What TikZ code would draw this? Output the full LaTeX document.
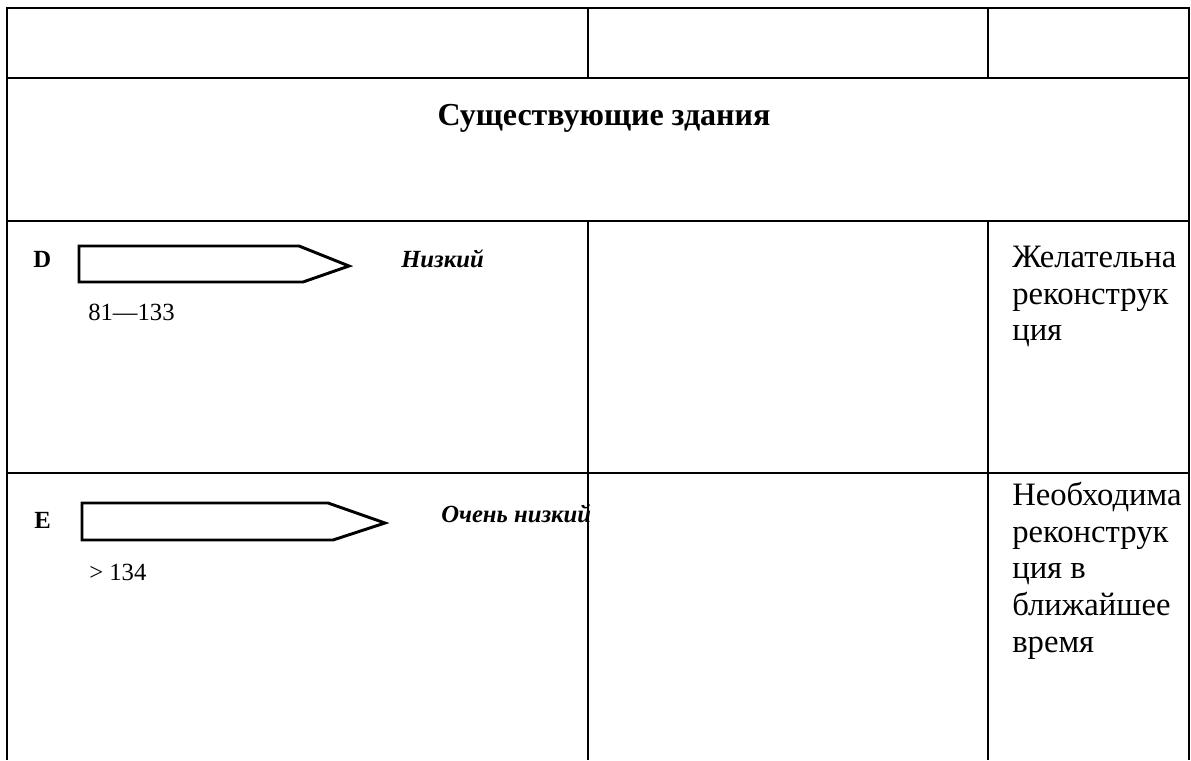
\documentclass[tikz,border=0pt]{standalone}
\usepackage{fontspec}
\setmainfont{Liberation Serif}
\begin{document}
\begin{tikzpicture}[x=0.75pt,y=-0.75pt,
  rule/.style={line width=2pt},
  bar/.style={line width=2.2pt, line join=miter},
  cell/.style={inner sep=0pt, align=left, anchor=north west,
    font=\fontsize{24.5}{27.5}\selectfont},
  titletext/.style={inner sep=0pt, anchor=base, font=\fontsize{24}{28}\selectfont\bfseries},
  gradetext/.style={inner sep=0pt, anchor=base west, font=\fontsize{18.5}{20}\selectfont\bfseries},
  rangetext/.style={inner sep=0pt, anchor=base west, font=\fontsize{18.5}{20}\selectfont},
  leveltext/.style={inner sep=0pt, anchor=base west, font=\fontsize{18.5}{20}\selectfont\bfseries\itshape}]
\useasboundingbox (0,0) rectangle (1191,760);
\fill[white] (0,0) rectangle (1191,760);
% table grid
\draw[rule] (7,760) -- (7,8) -- (1189,8) -- (1189,760);
\draw[rule] (7,78) -- (1189,78);
\draw[rule] (7,221) -- (1189,221);
\draw[rule] (7,473) -- (1189,473);
\draw[rule] (588,8) -- (588,78);
\draw[rule] (988,8) -- (988,78);
\draw[rule] (588,221) -- (588,760);
\draw[rule] (988,221) -- (988,760);
% title
\node[titletext] (title) at (604,125) {Существующие здания};
% row D
\node[gradetext] (gD) at (33,267) {D};
\draw[bar] (79,246) -- (299,246) -- (349,266) -- (303,282) -- (79,282) -- cycle;
\node[rangetext] (rD) at (88,320) {81—133};
\node[leveltext] (lD) at (401,267) {Низкий};
\node[cell] (cD) at (1012,241.5) {\strut Желательна\\реконструк\\ция};
% row E
\node[gradetext] (gE) at (34,528) {E};
\draw[bar] (82,503) -- (328,503) -- (385,523) -- (333,540) -- (82,540) -- cycle;
\node[rangetext] (rE) at (89,580) {> 134};
\node[leveltext] (lE) at (441,522) {Очень низкий};
\node[cell] (cE) at (1012,479.5) {\strut Необходима\\реконструк\\ция в\\ближайшее\\время};
\end{tikzpicture}
\end{document}
